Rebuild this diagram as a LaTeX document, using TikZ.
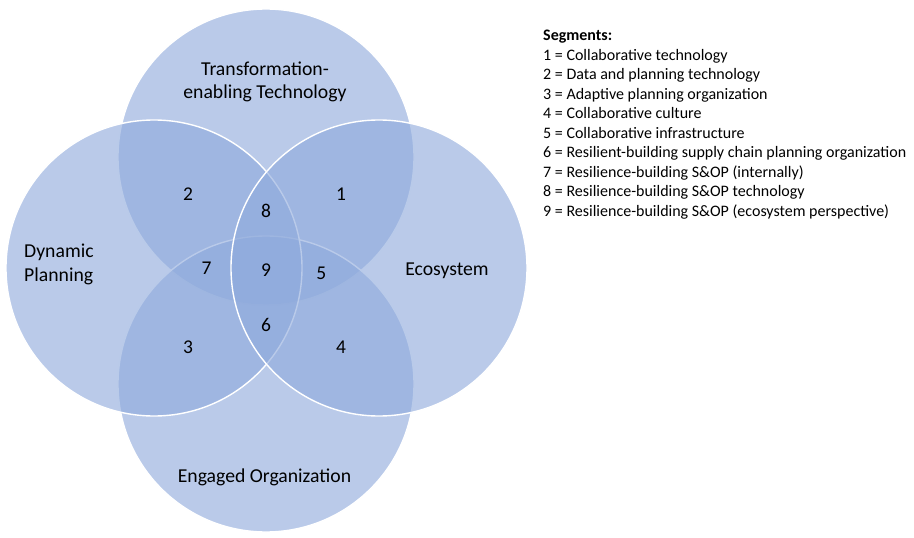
\documentclass[tikz,border=0pt]{standalone}
\usepackage{fontspec}
\setmainfont{Carlito}
\usetikzlibrary{positioning}
\definecolor{vennblue}{HTML}{8FAADC}
\tikzset{
    venncircle/.style = {circle, inner sep=0pt, outer sep=0pt, minimum size=296pt, fill=vennblue, fill opacity=0.62, draw=white, line width=1.4pt},
    segnum/.style = {inner sep=0pt, anchor=base, text=black, font=\fontsize{19.5}{23}\selectfont},
    setlabel/.style = {inner sep=0pt, align=center, text=black, font=\fontsize{19.7}{23.1}\selectfont},
    legend/.style = {inner sep=0pt, align=left, text=black, font=\fontsize{16}{19.5}\selectfont}
}
\begin{document}
\begin{tikzpicture}[x=1pt,y=-1pt]
\useasboundingbox (0,0) rectangle (914,538);
% the four sets
\node[venncircle] (tech) at (266,157) {};
\node[venncircle] (org)  at (266,384) {};
\node[venncircle] (plan) at (154,268) {};
\node[venncircle] (eco)  at (379,268) {};
% set names (base = last line)
\node[setlabel, anchor=base] (techlbl) at (265,98.6) {Transformation-\\enabling Technology};
\node[setlabel, anchor=base] (ecolbl) at (447,275) {Ecosystem};
\node[setlabel, anchor=base] (orglbl) at (264.5,482) {Engaged Organization};
\node[setlabel, align=left, anchor=base west] (planlbl) at (24,281) {Dynamic\\Planning};
% segments
\node[segnum] (s1) at (341,200.7) {1};
\node[segnum] (s2) at (188,200.7) {2};
\node[segnum] (s3) at (188,353.7) {3};
\node[segnum] (s4) at (341,353.7) {4};
\node[segnum] (s5) at (321.4,279) {5};
\node[segnum] (s6) at (266,331.6) {6};
\node[segnum] (s7) at (206.5,274.8) {7};
\node[segnum] (s8) at (266,217.7) {8};
\node[segnum] (s9) at (266,276) {9};
% key
\node[legend, anchor=north west] (key) at (543,30.2) {%
  \textbf{Segments:}\\
  1 = Collaborative technology\\
  2 = Data and planning technology\\
  3 = Adaptive planning organization\\
  4 = Collaborative culture\\
  5 = Collaborative infrastructure\\
  6 = Resilient-building supply chain planning organization\\
  7 = Resilience-building S\&OP (internally)\\
  8 = Resilience-building S\&OP technology\\
  9 = Resilience-building S\&OP (ecosystem perspective)};
\end{tikzpicture}
\end{document}
